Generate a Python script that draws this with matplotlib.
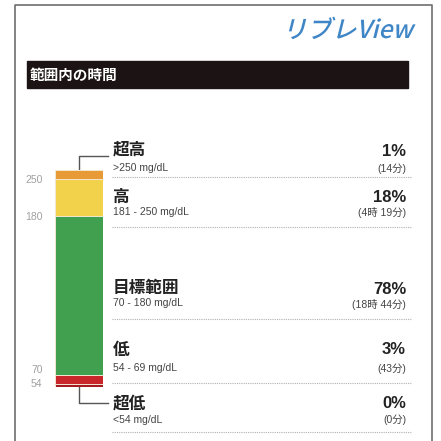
import matplotlib.pyplot as plt
import matplotlib.transforms as mtransforms
from matplotlib.textpath import TextPath
from matplotlib.patches import PathPatch, Rectangle
from matplotlib.font_manager import FontProperties
import numpy as np

plt.rcParams['font.family'] = ['Noto Sans CJK JP', 'DejaVu Sans']
LAT = ['Liberation Sans', 'Noto Sans CJK JP']

# data, top to bottom
zones = ['超高', '高', '目標範囲', '低', '超低']
ranges = ['>250 mg/dL', '181 - 250 mg/dL', '70 - 180 mg/dL', '54 - 69 mg/dL', '<54 mg/dL']
pcts = np.array([1, 18, 78, 3, 0])
times = ['(14分)', '(4時 19分)', '(18時 44分)', '(43分)', '(0分)']
bounds = [250, 180, 70, 54]
colors = ['#e79a36', '#f1d24a', '#41a04f', '#c9262c', '#a31b22']

# minimum visible height for tiny segments
disp = np.where(pcts == 0, 1.5, np.maximum(pcts, 4.5))

fig = plt.figure(figsize=(4.41, 4.41), dpi=100)
ax = fig.add_axes([0, 0, 1, 1])
ax.set_xlim(0, 441)
ax.set_ylim(441, 0)
ax.axis('off')

# outer frame
ax.plot([15, 15, 432, 432], [446, 5, 5, 446], color='#6e6e6e', lw=1.2)

# title, slanted
tp = TextPath((0, 0), 'リブレView', size=20, prop=FontProperties(family='Noto Sans CJK JP', weight='medium'))
ext = tp.get_extents()
k = 125 / ext.width
tr = (mtransforms.Affine2D().skew_deg(14, 0).scale(k, -k)
      .translate(410 - 125 - 3, 38) + ax.transData)
ax.add_patch(PathPatch(tp, transform=tr, color='#3f86c6', lw=0))

# header bar
ax.add_patch(Rectangle((27, 61), 381, 27, color='#1c1414'))
ax.text(30, 75, '範囲内の時間', color='white', fontsize=10.5, fontweight='bold', va='center')

# rows
name_y = [150, 197, 288, 350, 404]
range_y = [168, 212, 303, 368, 420]
dot_y = [177, 227, 319, 383, 432]
pct_y = [152, 197, 290, 350, 404]
time_y = [169, 212, 305, 369, 420]
for i in range(len(zones)):
    ax.text(113, name_y[i], zones[i], fontsize=12, fontweight='bold', color='#222222', va='center')
    ax.text(113, range_y[i], ranges[i], fontsize=7.5, family=LAT, color='#444444', va='center')
    ax.text(406, pct_y[i], f'{pcts[i]}%', fontsize=12, family=LAT, fontweight='bold',
            color='#222222', va='center', ha='right')
    ax.text(406, time_y[i], times[i], fontsize=7.5, family=LAT, color='#444444',
            va='center', ha='right')
    ax.plot([112, 412], [dot_y[i], dot_y[i]], color='#b0b0b0', lw=0.8, ls=(0, (1, 1)))

# stacked bar
bx = fig.add_axes([55 / 441, 1 - 387 / 441, 48 / 441, 217 / 441])
bottom = 0
for h, c in zip(disp[::-1], colors[::-1]):
    bx.bar(0, h, bottom=bottom, width=1, color=c, edgecolor='#f3e6d0', lw=0.7)
    bottom += h
bx.set_xlim(-0.5, 0.5)
bx.set_ylim(0, disp.sum())
cum = np.cumsum(disp[::-1])
bx.set_yticks(cum[:4][::-1])
bx.set_yticklabels([str(b) for b in bounds], fontsize=7.5, family=LAT, color='#a0a0a0')
bx.tick_params(axis='y', length=0, pad=9)
tl = bx.get_yticklabels()
tl[2].set_va('bottom')
tl[3].set_va('center')
bx.set_xticks([])
for s in bx.spines.values():
    s.set_visible(False)

# connectors
ax.plot([79, 79, 108], [170, 156, 156], color='#555555', lw=1)
ax.plot([79, 79, 108], [387, 403, 403], color='#555555', lw=1)

fig.savefig('out.png', dpi=100, facecolor='white')
